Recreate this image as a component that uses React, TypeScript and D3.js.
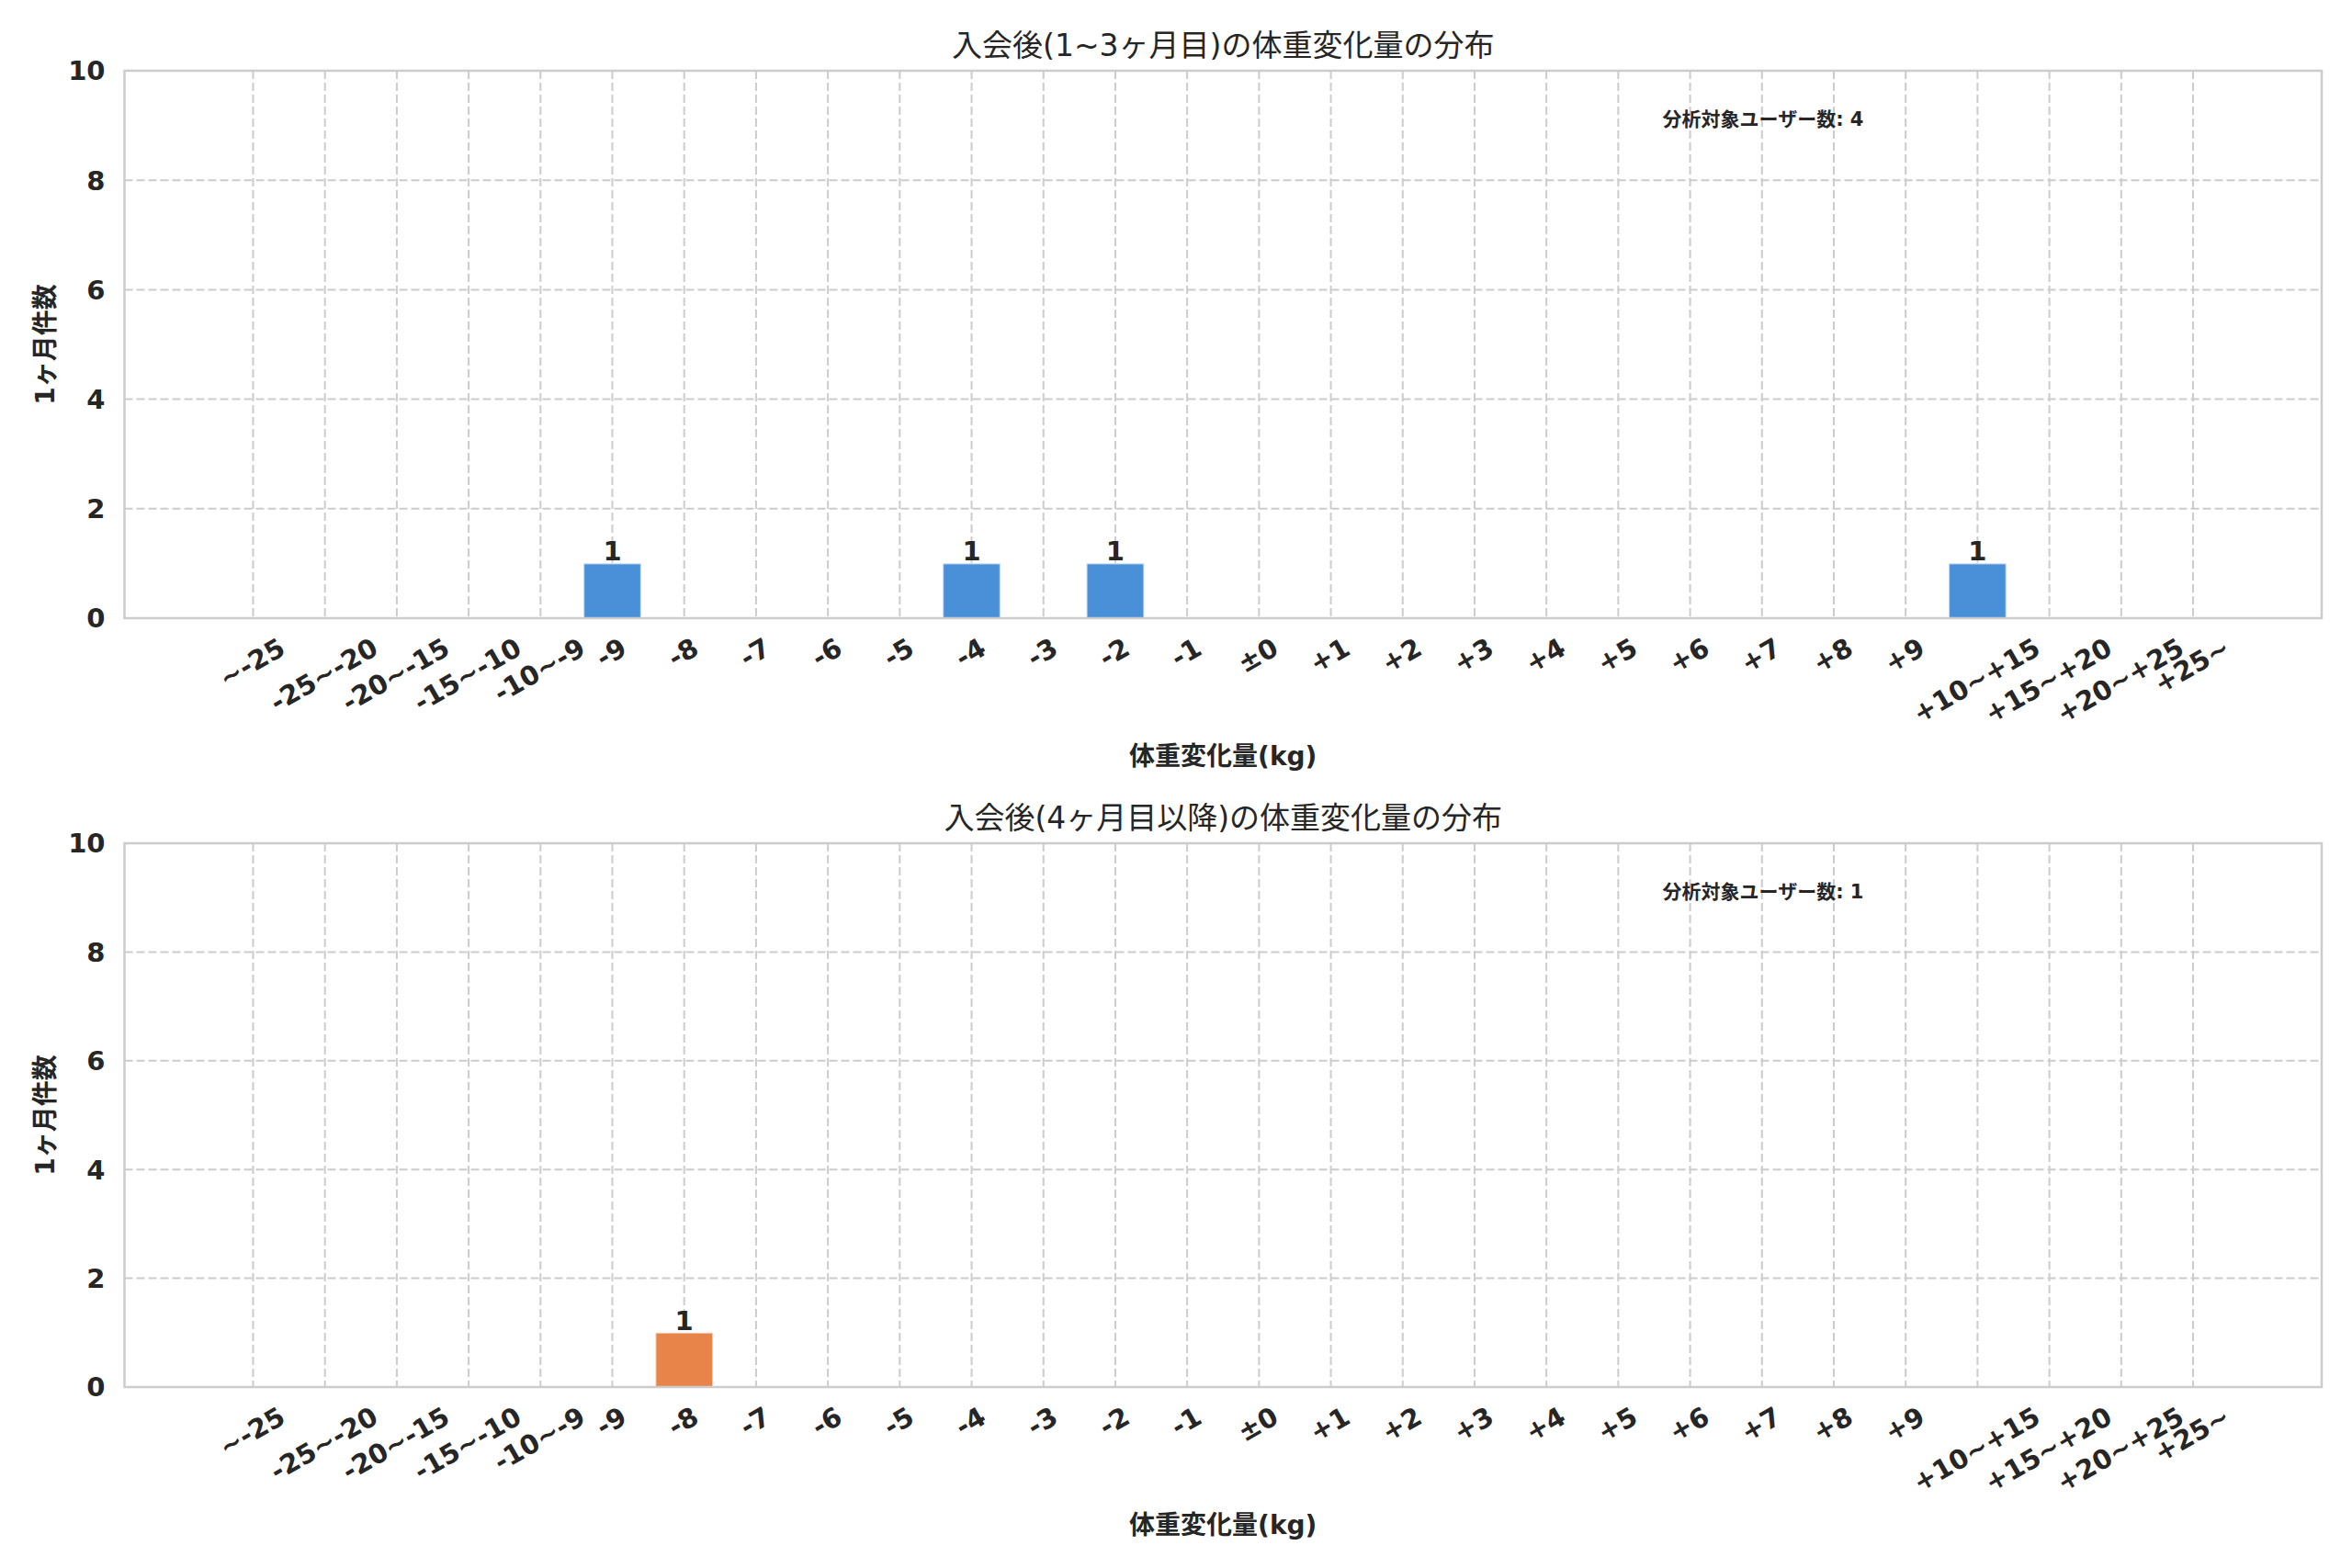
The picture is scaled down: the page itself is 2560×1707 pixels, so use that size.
import React, { useEffect, useRef } from 'react';
import * as d3 from 'd3';

// bins of weight change (kg)
const categories = [
  '~-25', '-25~-20', '-20~-15', '-15~-10', '-10~-9',
  '-9', '-8', '-7', '-6', '-5', '-4', '-3', '-2', '-1',
  '±0',
  '+1', '+2', '+3', '+4', '+5', '+6', '+7', '+8', '+9',
  '+10~+15', '+15~+20', '+20~+25', '+25~',
];

// counts per bin, months 1-3
const earlyCounts = [
  0, 0, 0, 0, 0,
  1, 0, 0, 0, 0, 1, 0, 1, 0,
  0,
  0, 0, 0, 0, 0, 0, 0, 0, 0,
  1, 0, 0, 0,
];

// counts per bin, month 4 and later
const lateCounts = [
  0, 0, 0, 0, 0,
  0, 1, 0, 0, 0, 0, 0, 0, 0,
  0,
  0, 0, 0, 0, 0, 0, 0, 0, 0,
  0, 0, 0, 0,
];

const yTicks = [0, 2, 4, 6, 8, 10];
const titles = ['入会後(1~3ヶ月目)の体重変化量の分布', '入会後(4ヶ月目以降)の体重変化量の分布'];
const xLabel = '体重変化量(kg)';
const yLabel = '1ヶ月件数';
const totalLabel = '分析対象ユーザー数';
const barColors = ['#4a90d9', '#e8844a'];

const WIDTH = 2560;
const HEIGHT = 1707;
const FONT = '"DejaVu Sans", "Noto Sans CJK JP", sans-serif';
const TEXT = '#262626';
const LINE = '#cccccc';

export default function App() {
  const svgRef = useRef<SVGSVGElement>(null);

  useEffect(() => {
    document.body.style.margin = '0';
    if (!svgRef.current) return;

    const svg = d3.select(svgRef.current);
    svg.selectAll('*').remove();

    svg.append('rect').attr('width', WIDTH).attr('height', HEIGHT).attr('fill', '#ffffff');

    const left = 135.5;
    const right = 2527;

    const panels = [
      { title: titles[0], counts: earlyCounts, color: barColors[0], top: 77, bottom: 673 },
      { title: titles[1], counts: lateCounts, color: barColors[1], top: 918, bottom: 1510 },
    ];

    const n = categories.length;
    const barW = 0.8;
    const margin = 0.05 * (n - 1 + barW);

    const x = d3.scaleLinear()
      .domain([-barW / 2 - margin, n - 1 + barW / 2 + margin])
      .range([left, right]);

    panels.forEach((p) => {
      const y = d3.scaleLinear().domain([0, 10]).range([p.bottom, p.top]);
      const g = svg.append('g').style('font-family', FONT);

      // grid
      g.selectAll('.hgrid')
        .data(yTicks)
        .enter().append('line')
        .attr('x1', left).attr('x2', right)
        .attr('y1', d => y(d)).attr('y2', d => y(d))
        .attr('stroke', LINE)
        .attr('stroke-width', 2)
        .attr('stroke-dasharray', '9,4');

      g.selectAll('.vgrid')
        .data(categories)
        .enter().append('line')
        .attr('x1', (d, i) => x(i)).attr('x2', (d, i) => x(i))
        .attr('y1', p.top).attr('y2', p.bottom)
        .attr('stroke', LINE)
        .attr('stroke-width', 2)
        .attr('stroke-dasharray', '9,4');

      // bars
      const bars = p.counts.map((c, i) => ({ c, i })).filter(d => d.c > 0);
      g.selectAll('.bar')
        .data(bars)
        .enter().append('rect')
        .attr('x', d => x(d.i - barW / 2))
        .attr('width', x(barW) - x(0))
        .attr('y', d => y(d.c))
        .attr('height', d => y(0) - y(d.c))
        .attr('fill', p.color)
        .attr('stroke', '#ffffff')
        .attr('stroke-opacity', 0.6)
        .attr('stroke-width', 2);

      // value labels
      g.selectAll('.val')
        .data(bars)
        .enter().append('text')
        .attr('x', d => x(d.i))
        .attr('y', d => y(d.c) - 3)
        .attr('text-anchor', 'middle')
        .attr('font-size', 29)
        .attr('font-weight', 'bold')
        .attr('fill', TEXT)
        .text(d => d.c);

      // spines
      g.append('rect')
        .attr('x', left).attr('y', p.top)
        .attr('width', right - left).attr('height', p.bottom - p.top)
        .attr('fill', 'none')
        .attr('stroke', LINE)
        .attr('stroke-width', 2.5);

      // y tick labels
      g.selectAll('.ytick')
        .data(yTicks)
        .enter().append('text')
        .attr('x', left - 21)
        .attr('y', d => y(d))
        .attr('dy', '0.36em')
        .attr('text-anchor', 'end')
        .attr('font-size', 29)
        .attr('font-weight', 'bold')
        .attr('fill', TEXT)
        .text(d => d);

      // x tick labels, rotated 30deg, bbox centred on tick
      const fs = 29;
      categories.forEach((c, i) => {
        const t = g.append('text')
          .attr('text-anchor', 'middle')
          .attr('font-size', fs)
          .attr('font-weight', 'bold')
          .attr('fill', TEXT)
          .text(c);
        const w = (t.node() as SVGTextElement).getComputedTextLength();
        const boxH = w * 0.5 + fs * 0.866;
        const cy = p.bottom + 19 + boxH / 2;
        t.attr('transform', `translate(${x(i)},${cy}) rotate(-30)`)
          .attr('y', fs * 0.26);
      });

      // title
      g.append('text')
        .attr('x', (left + right) / 2)
        .attr('y', p.top - 16)
        .attr('text-anchor', 'middle')
        .attr('font-size', 33)
        .attr('fill', TEXT)
        .text(p.title);

      // x label
      g.append('text')
        .attr('x', (left + right) / 2)
        .attr('y', p.bottom + 150)
        .attr('dy', '0.35em')
        .attr('text-anchor', 'middle')
        .attr('font-size', 28)
        .attr('font-weight', 'bold')
        .attr('fill', TEXT)
        .text(xLabel);

      // y label
      g.append('text')
        .attr('transform', `translate(49,${(p.top + p.bottom) / 2}) rotate(-90)`)
        .attr('dy', '0.35em')
        .attr('text-anchor', 'middle')
        .attr('font-size', 28)
        .attr('font-weight', 'bold')
        .attr('fill', TEXT)
        .text(yLabel);

      // total annotation
      g.append('text')
        .attr('x', left + 0.7 * (right - left))
        .attr('y', p.top + 0.089 * (p.bottom - p.top))
        .attr('dy', '0.35em')
        .attr('font-size', 21)
        .attr('font-weight', 'bold')
        .attr('fill', TEXT)
        .text(`${totalLabel}: ${d3.sum(p.counts)}`);
    });
  }, []);

  return (
    <svg
      ref={svgRef}
      width={WIDTH}
      height={HEIGHT}
      viewBox={`0 0 ${WIDTH} ${HEIGHT}`}
      style={{ display: 'block' }}
    />
  );
}
